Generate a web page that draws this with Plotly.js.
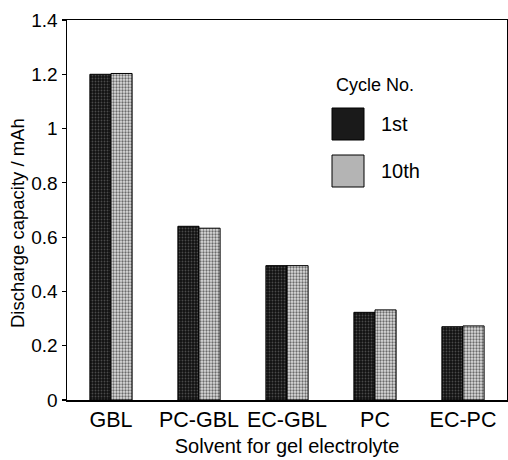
<!DOCTYPE html>
<html>
<head>
<meta charset="utf-8">
<script src="https://cdn.plot.ly/plotly-3.0.1.min.js"></script>
<style>html,body{margin:0;padding:0;background:#fff;}#chart{width:508px;height:460px;}</style>
</head>
<body>
<div id="chart"></div>
<script>
const categories = ["GBL", "PC-GBL", "EC-GBL", "PC", "EC-PC"];
const seriesNames = ["1st", "10th"];
const cycle1 = [1.20, 0.64, 0.495, 0.323, 0.27];
const cycle10 = [1.203, 0.633, 0.495, 0.332, 0.273];
const yTicks = [0, 0.2, 0.4, 0.6, 0.8, 1, 1.2, 1.4];
const yTitle = "Discharge capacity / mAh";
const xTitle = "Solvent for gel electrolyte";
const legendTitle = "Cycle No.";

const font = "Liberation Sans, Arial, Helvetica, sans-serif";

const traces = [
  {
    type: "bar", name: seriesNames[0], x: categories, y: cycle1, showlegend: false,
    marker: {color: "#1a1a1a", line: {color: "#000", width: 1},
      pattern: {shape: ".", bgcolor: "#111111", fgcolor: "#4a4a4a", size: 3, solidity: 0.3}}
  },
  {
    type: "bar", name: seriesNames[1], x: categories, y: cycle10, showlegend: false,
    marker: {color: "#b0b0b0", line: {color: "#000", width: 1},
      pattern: {shape: ".", bgcolor: "#dedede", fgcolor: "#6a6a6a", size: 3, solidity: 0.45}}
  }
];

const px = (v) => (v - 67) / 440;
const py = (v) => (400 - v) / 380;

const layout = {
  width: 508, height: 460,
  margin: {l: 67, r: 1, t: 20, b: 60},
  paper_bgcolor: "#fff", plot_bgcolor: "#fff",
  barmode: "group", bargap: 0.52, bargroupgap: 0,
  font: {family: font, color: "#000", size: 18},
  xaxis: {
    showline: true, mirror: true, linecolor: "#000", linewidth: 1.5,
    ticks: "", showgrid: false, zeroline: false,
    tickfont: {size: 21.5, family: font},
    title: {text: xTitle, font: {size: 20, family: font}, standoff: 7}
  },
  yaxis: {
    range: [0, 1.4], tickvals: yTicks, ticktext: yTicks.map(String),
    showline: true, mirror: true, linecolor: "#000", linewidth: 1.5,
    ticks: "outside", ticklen: 4, tickwidth: 1.2, tickcolor: "#000",
    showgrid: false, zeroline: false,
    tickfont: {size: 19, family: font}
  },
  shapes: [
    {type: "rect", xref: "paper", yref: "paper", x0: px(332), x1: px(364), y0: py(140), y1: py(108),
     fillcolor: "#1a1a1a", line: {color: "#000", width: 1}},
    {type: "rect", xref: "paper", yref: "paper", x0: px(332), x1: px(364), y0: py(187), y1: py(155),
     fillcolor: "#b4b4b4", line: {color: "#000", width: 1}}
  ],
  annotations: [
    {xref: "paper", yref: "paper", x: px(17), y: py(223), text: yTitle, showarrow: false,
     textangle: -90, xanchor: "center", yanchor: "middle", font: {size: 18.5, family: font}},
    {xref: "paper", yref: "paper", x: px(375), y: py(85), text: legendTitle, showarrow: false,
     xanchor: "center", yanchor: "middle", font: {size: 18, family: font}},
    {xref: "paper", yref: "paper", x: px(379), y: py(124), text: seriesNames[0], showarrow: false,
     xanchor: "left", yanchor: "middle", font: {size: 20, family: font}},
    {xref: "paper", yref: "paper", x: px(379), y: py(171), text: seriesNames[1], showarrow: false,
     xanchor: "left", yanchor: "middle", font: {size: 20, family: font}}
  ]
};

Plotly.newPlot("chart", traces, layout, {displayModeBar: false, staticPlot: true});
</script>
</body>
</html>
